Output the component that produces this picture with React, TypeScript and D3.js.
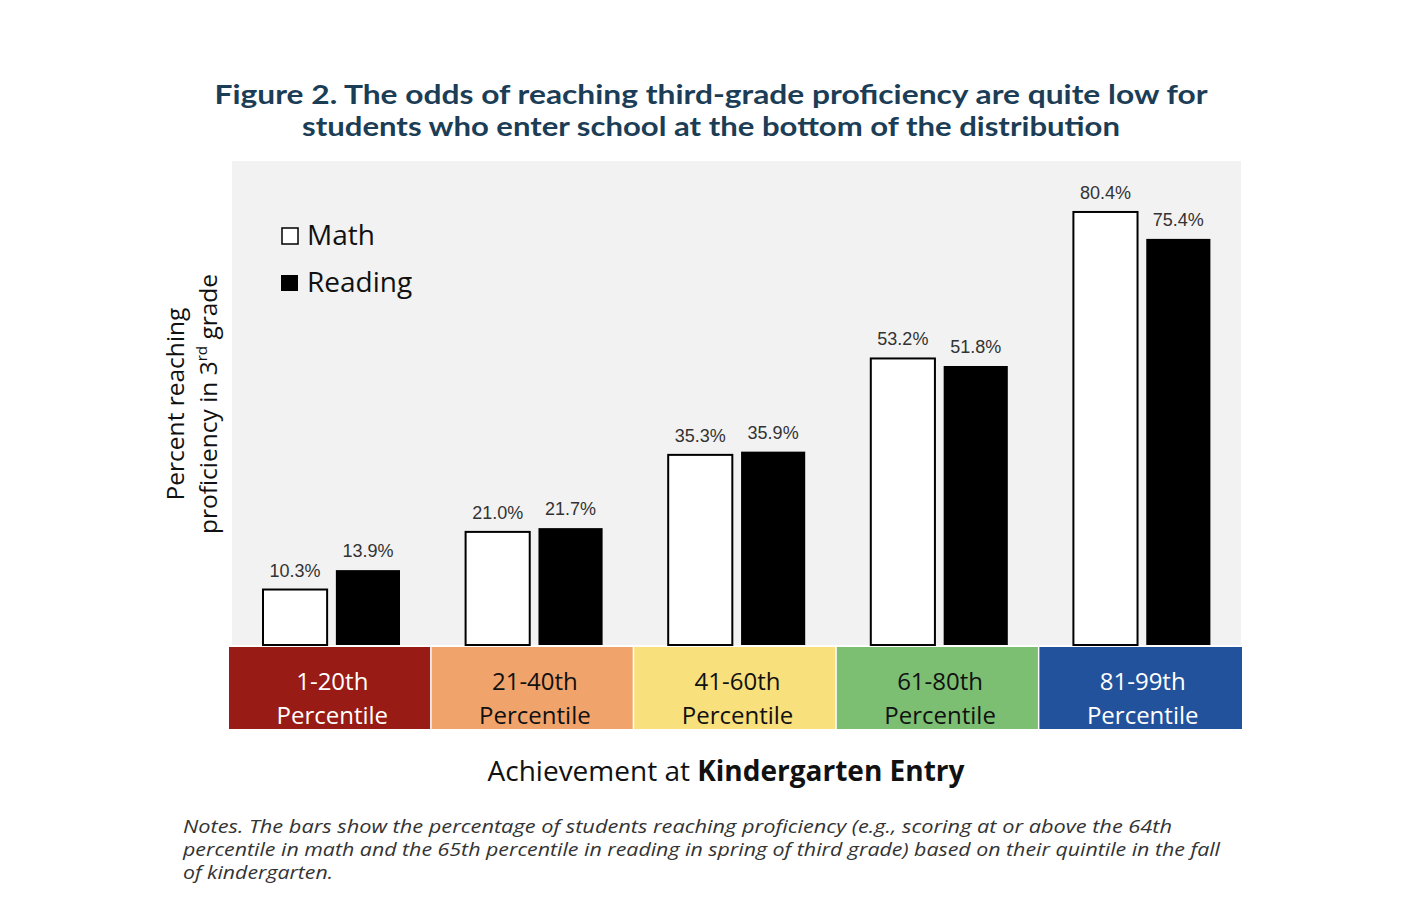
import * as d3 from 'd3';

const categories = ['1-20th', '21-40th', '41-60th', '61-80th', '81-99th'];
const series = ['Math', 'Reading'];
const mathValues = [10.3, 21.0, 35.3, 53.2, 80.4];
const readingValues = [13.9, 21.7, 35.9, 51.8, 75.4];
const bandColors = ['#981b15', '#f0a46c', '#f8e07c', '#7cbf73', '#22529c'];
const bandTextColors = ['#ffffff', '#111111', '#111111', '#111111', '#ffffff'];
const noteLines = [
  'Notes. The bars show the percentage of students reaching proficiency (e.g., scoring at or above the 64th',
  'percentile in math and the 65th percentile in reading in spring of third grade) based on their quintile in the fall',
  'of kindergarten.',
];
const noteWidths = [989, 1037, 150];

const W = 1425;
const H = 909;
const panel = { left: 232, right: 1241, top: 161, bottom: 645 };
const band = { left: 229, right: 1242, top: 647, bottom: 729 };

export default function App() {
  const x = d3.scaleBand<string>().domain(categories).range([band.left, band.right]).padding(0);
  const xInner = d3
    .scaleBand<string>()
    .domain(series)
    .range([34, 171])
    .paddingInner(0.12);
  const y = d3.scaleLinear().domain([0, 100]).range([panel.bottom, panel.bottom - 538.6]);

  const fontLabel = "'Open Sans', 'Noto Sans', sans-serif";

  const bars = categories.flatMap((c, i) =>
    series.map((s) => {
      const v = s === 'Math' ? mathValues[i] : readingValues[i];
      return { c, s, v, x: (x(c) as number) + (xInner(s) as number) };
    })
  );

  return (
    <svg width={W} height={H} style={{ position: 'absolute', left: 0, top: 0, background: '#fff' }}>
      {/* title */}
      <g fontFamily="Lato, 'Open Sans', sans-serif" fontWeight="bold" fontSize={27} fill="#1c3d56" textAnchor="middle">
        <text x={711} y={104} textLength={993} lengthAdjust="spacingAndGlyphs">
          Figure 2.  The odds of reaching third-grade proficiency are quite low for
        </text>
        <text x={711} y={136} textLength={818} lengthAdjust="spacingAndGlyphs">
          students who enter school at the bottom of the distribution
        </text>
      </g>

      {/* panel */}
      <rect x={panel.left} y={panel.top} width={panel.right - panel.left} height={panel.bottom - panel.top} fill="#f2f2f2" />

      {/* legend */}
      <g fontFamily={fontLabel} fontSize={28} fill="#111">
        <rect x={282} y={228} width={16} height={16} fill="#fff" stroke="#000" strokeWidth={1.5} />
        <text x={307} y={245}>Math</text>
        <rect x={281} y={275} width={17} height={16} fill="#000" />
        <text x={307} y={292}>Reading</text>
      </g>

      {/* bars */}
      {bars.map((b) => (
        <rect
          key={b.c + b.s}
          x={b.x}
          y={y(b.v)}
          width={xInner.bandwidth()}
          height={y(0) - y(b.v)}
          fill={b.s === 'Math' ? '#fff' : '#000'}
          stroke="#000"
          strokeWidth={b.s === 'Math' ? 2 : 0}
        />
      ))}
      {bars.map((b) => (
        <text
          key={'l' + b.c + b.s}
          x={b.x + xInner.bandwidth() / 2}
          y={y(b.v) - 13}
          textAnchor="middle"
          fontFamily="'Liberation Sans', Arial, sans-serif"
          fontSize={18}
          fill="#333"
        >
          {b.v.toFixed(1)}%
        </text>
      ))}

      {/* category bands */}
      {categories.map((c, i) => (
        <g key={c}>
          <rect
            x={x(c) as number}
            y={band.top}
            width={x.bandwidth() - (i < categories.length - 1 ? 1.5 : 0)}
            height={band.bottom - band.top}
            fill={bandColors[i]}
          />
          <g
            fontFamily={fontLabel}
            fontSize={24}
            fill={bandTextColors[i]}
            textAnchor="middle"
          >
            <text x={(x(c) as number) + x.bandwidth() / 2 + 2} y={690}>{c}</text>
            <text x={(x(c) as number) + x.bandwidth() / 2 + 2} y={724}>Percentile</text>
          </g>
        </g>
      ))}

      {/* y-axis title */}
      <g fontFamily={fontLabel} fontSize={24.5} fill="#111" textAnchor="middle">
        <text transform="translate(184,404) rotate(-90)">Percent reaching</text>
        <text transform="translate(217,404) rotate(-90)">
          proficiency in 3
          <tspan fontSize={15} dy={-10}>rd</tspan>
          <tspan dy={10}> grade</tspan>
        </text>
      </g>

      {/* x-axis title */}
      <text x={726} y={781} textAnchor="middle" fontFamily={fontLabel} fontSize={28} fill="#111">
        Achievement at <tspan fontWeight="bold">Kindergarten Entry</tspan>
      </text>

      {/* notes */}
      <g fontFamily="'Open Sans', sans-serif" fontStyle="italic" fontSize={18} fill="#333">
        {noteLines.map((t, i) => (
          <text key={i} x={183} y={833 + i * 23} textLength={noteWidths[i]} lengthAdjust="spacingAndGlyphs">
            {t}
          </text>
        ))}
      </g>
    </svg>
  );
}
